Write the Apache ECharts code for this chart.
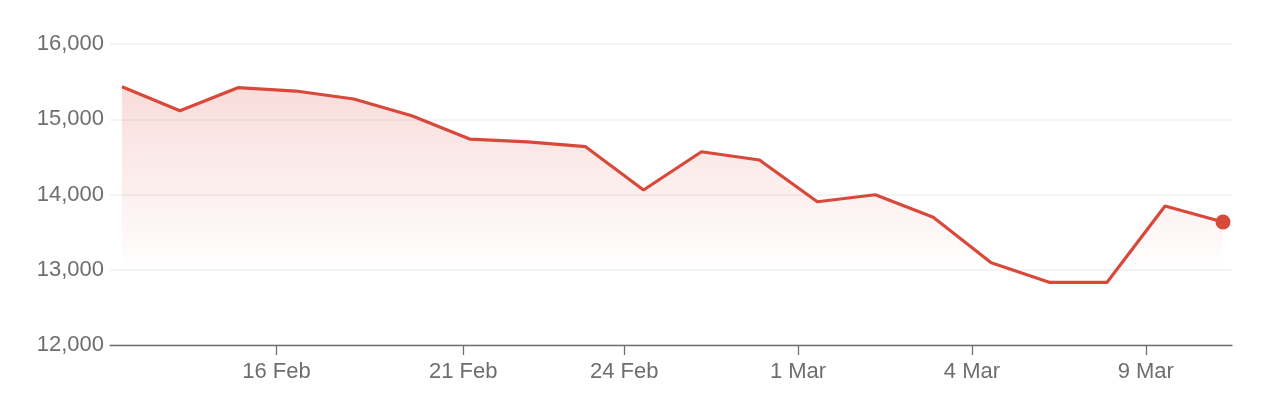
<!DOCTYPE html>
<html>
<head>
<meta charset="utf-8">
<style>
  html, body { margin: 0; padding: 0; background: #ffffff; }
  #chart { width: 1266px; height: 412px; }
</style>
<script src="https://cdn.jsdelivr.net/npm/echarts@6/dist/echarts.min.js"></script>
</head>
<body>
<div id="chart"></div>
<script>
// Trading days (points sampled at 08:00 UTC on each trading day)
const tradingDays = [
  '2022-02-11', '2022-02-14', '2022-02-15', '2022-02-16', '2022-02-17',
  '2022-02-18', '2022-02-21', '2022-02-22', '2022-02-23', '2022-02-24',
  '2022-02-25', '2022-02-28', '2022-03-01', '2022-03-02', '2022-03-03',
  '2022-03-04', '2022-03-07', '2022-03-08', '2022-03-09', '2022-03-10'
];
const closeValues = [
  15433, 15114, 15420, 15375, 15269,
  15047, 14737, 14700, 14635, 14060,
  14568, 14458, 13904, 13997, 13697,
  13094, 12833, 12833, 13847, 13635
];
// Axis ticks at midnight of these dates
const tickDates = ['2022-02-16', '2022-02-21', '2022-02-24', '2022-03-01', '2022-03-04', '2022-03-09'];
const tickLabels = ['16 Feb', '21 Feb', '24 Feb', '1 Mar', '4 Mar', '9 Mar'];
const yTicks = [12000, 13000, 14000, 15000, 16000];

function ts(d, hour) {
  const p = d.split('-').map(Number);
  return Date.UTC(p[0], p[1] - 1, p[2], hour || 0);
}
const pointTimes = tradingDays.map(d => ts(d, 8));
// ordinal (trading-day) position of an arbitrary timestamp
function ordinalPos(t) {
  for (let i = 0; i < pointTimes.length - 1; i++) {
    if (t >= pointTimes[i] && t < pointTimes[i + 1]) {
      return i + (t - pointTimes[i]) / (pointTimes[i + 1] - pointTimes[i]);
    }
  }
  return pointTimes.length - 1;
}
const tickPositions = tickDates.map(d => ordinalPos(ts(d, 0)));

const lineData = closeValues.map((v, i) => [i, v]);
const last = lineData[lineData.length - 1];

const textColor = '#6e6e6e';
const red = '#d9493b';
const font = 'Liberation Sans, Arial, Helvetica, sans-serif';

const chart = echarts.init(document.getElementById('chart'), null, { renderer: 'canvas' });
chart.setOption({
  animation: false,
  grid: { left: 110, right: 34, top: 44, bottom: 67, containLabel: false },
  xAxis: {
    type: 'value',
    min: -0.207,
    max: closeValues.length - 1 + 0.155,
    axisLine: { show: true, onZero: false, lineStyle: { color: '#707070', width: 1.3 } },
    axisTick: { show: true, length: 10, customValues: tickPositions, lineStyle: { color: '#707070', width: 1.3 } },
    axisLabel: {
      show: true,
      customValues: tickPositions,
      margin: 16,
      color: textColor,
      fontSize: 22,
      fontFamily: font,
      formatter: function (v) {
        let best = 0, bd = Infinity;
        tickPositions.forEach((p, i) => { const d = Math.abs(p - v); if (d < bd) { bd = d; best = i; } });
        return tickLabels[best];
      }
    },
    splitLine: { show: false }
  },
  yAxis: {
    type: 'value',
    min: yTicks[0],
    max: yTicks[yTicks.length - 1],
    interval: 1000,
    axisLine: { show: false },
    axisTick: { show: false },
    axisLabel: {
      color: textColor,
      fontSize: 22,
      fontFamily: font,
      margin: 6,
      formatter: v => v.toLocaleString('en-US')
    },
    splitLine: { show: true, lineStyle: { color: '#f0f0f0', width: 1.5 } }
  },
  series: [
    {
      type: 'line',
      data: lineData,
      showSymbol: false,
      symbol: 'none',
      lineStyle: { color: red, width: 3.2 },
      areaStyle: {
        color: new echarts.graphic.LinearGradient(0, 0, 0, 1, [
          { offset: 0, color: 'rgba(217,73,59,0.27)' },
          { offset: 0.72, color: 'rgba(217,73,59,0.0)' },
          { offset: 1, color: 'rgba(217,73,59,0.0)' }
        ])
      },
      z: 2
    },
    {
      type: 'scatter',
      data: [last],
      symbol: 'circle',
      symbolSize: 15,
      itemStyle: { color: red, opacity: 1 },
      z: 3
    }
  ]
});
</script>
</body>
</html>
